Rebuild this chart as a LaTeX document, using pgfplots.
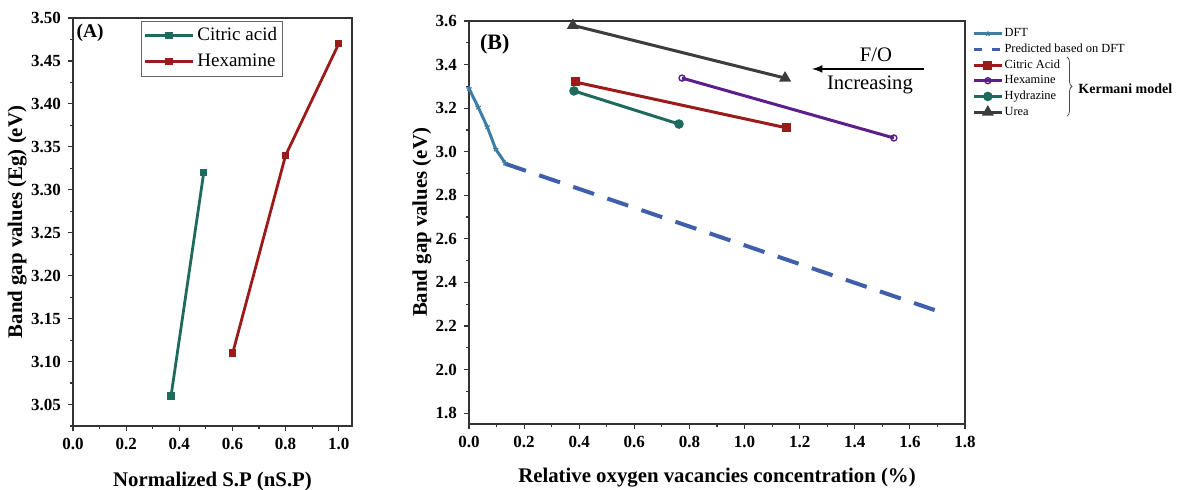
\documentclass[border=0pt]{standalone}
\usepackage{pgfplots}
\pgfplotsset{compat=1.18}
\usepackage{fontspec}
\setmainfont{Liberation Serif}
\usetikzlibrary{decorations.pathreplacing}
\definecolor{cteal}{HTML}{1E6B5E}
\definecolor{cred}{HTML}{9B1B1B}
\definecolor{cpurple}{HTML}{5B1F8B}
\definecolor{cgray}{HTML}{3C3C3C}
\definecolor{cdft}{HTML}{3D7EA6}
\definecolor{cpred}{HTML}{3F5FAA}
\begin{document}
\begin{tikzpicture}
\path[use as bounding box] (0,0) rectangle (589.5pt,244.5pt);
\pgfplotsset{
  common/.style={
    scale only axis,
    axis line style={line width=0.75pt, black!80},
    tick align=outside, tick pos=left,
    major tick length=2.5pt, minor tick length=1.5pt,
    every tick/.style={line width=0.6pt, black!80},
    /pgf/number format/assume math mode=true,
    /pgf/number format/fixed, /pgf/number format/fixed zerofill,
    ticklabel style={font=\bfseries\fontsize{8.5}{10}\selectfont},
    label style={font=\bfseries\fontsize{10.4}{12}\selectfont},
    clip=false,
  }
}
% ---------- Panel A ----------
\begin{axis}[common,
  at={(36.5pt,31.5pt)}, anchor=south west,
  width=139.5pt, height=204pt,
  xmin=0, xmax=1.05, ymin=3.025, ymax=3.50,
  xtick={0,0.2,...,1.0}, minor xtick={0.1,0.3,...,0.9},
  ytick={3.05,3.10,...,3.51}, minor ytick={3.025,3.075,...,3.49},
  xticklabel style={/pgf/number format/precision=1},
  yticklabel style={/pgf/number format/precision=2},
  xlabel={Normalized S.P (nS.P)},
  ylabel={Band gap values (Eg) (eV)},
  xlabel style={at={(axis description cs:0.5,-0.137)}, anchor=center},
  ylabel style={at={(axis description cs:-0.2,0.5)}, anchor=center},
  legend style={at={(0.244,0.993)}, anchor=north west, draw=black!60, line width=0.5pt,
    font=\fontsize{9.5}{11}\selectfont, inner sep=1pt,
    nodes={inner sep=1.5pt, text height=7pt, text depth=2.5pt}, row sep=0.5pt},
  legend cell align=left,
  legend image code/.code={\draw[mark repeat=2,mark phase=2] plot coordinates {(0pt,0pt) (12pt,0pt) (24pt,0pt)};},
]
\addplot[color=cteal, line width=1.4pt, mark=square*, mark size=1.1pt] coordinates {(0.369,3.06) (0.492,3.32)};
\addlegendentry{Citric acid}
\addplot[color=cred, line width=1.4pt, mark=square*, mark size=1.1pt] coordinates {(0.601,3.11) (0.80,3.34) (1.0,3.47)};
\addlegendentry{Hexamine}
\node[font=\bfseries\fontsize{9.7}{11}\selectfont] at (axis description cs:0.061,0.963) {(A)};
\end{axis}
% ---------- Panel B ----------
\begin{axis}[common,
  at={(234.5pt,32.5pt)}, anchor=south west,
  width=248pt, height=201.5pt,
  xmin=0, xmax=1.8, ymin=1.75, ymax=3.6,
  xtick={0,0.2,...,1.81}, minor xtick={0.1,0.3,...,1.75},
  ytick={1.8,2.0,...,3.61}, minor ytick={1.9,2.1,...,3.55},
  xticklabel style={/pgf/number format/precision=1},
  yticklabel style={/pgf/number format/precision=1},
  xlabel={Relative oxygen vacancies concentration (\%)},
  ylabel={Band gap values (eV)},
  xlabel style={at={(axis description cs:0.5,-0.134)}, anchor=center},
  ylabel style={at={(axis description cs:-0.095,0.5)}, anchor=center},
  legend style={at={(1.012,0.99)}, anchor=north west, draw=none, fill=none,
    font=\fontsize{6.2}{7}\selectfont, inner sep=0.5pt,
    nodes={inner sep=0.6pt, text height=4.6pt, text depth=1.4pt}, row sep=0.65pt},
  legend cell align=left,
  legend image code/.code={\draw[mark repeat=2,mark phase=2] plot coordinates {(0pt,0pt) (7pt,0pt) (14pt,0pt)};},
]
\addplot[color=cdft, line width=1.5pt, mark=star, mark size=1.4pt, mark options={line width=0.6pt}]
  coordinates {(0,3.29) (0.033,3.205) (0.066,3.115) (0.097,3.012) (0.131,2.948)};
\addlegendentry{DFT}
\addplot[color=cpred, line width=2pt, dash pattern=on 11pt off 7pt, forget plot]
  coordinates {(0.131,2.945) (1.69,2.273)};
\addlegendimage{color=cpred, line width=1.5pt, dash pattern=on 4pt off 5pt}
\addlegendentry{Predicted based on DFT}
\addplot[color=cred, line width=1.5pt, mark=square*, mark size=1.5pt]
  coordinates {(0.385,3.32) (1.154,3.109)};
\addlegendentry{Citric Acid}
\addplot[color=cpurple, line width=1.5pt, mark=o, mark size=1.5pt, mark options={fill=white, line width=0.7pt}]
  coordinates {(0.773,3.338) (1.542,3.063)};
\addlegendentry{Hexamine}
\addplot[color=cteal, line width=1.5pt, mark=*, mark size=1.6pt]
  coordinates {(0.381,3.279) (0.762,3.127)};
\addlegendentry{Hydrazine}
\addplot[color=cgray, line width=1.5pt, mark=triangle*, mark size=2pt]
  coordinates {(0.377,3.58) (1.147,3.338)};
\addlegendentry{Urea}
\node[font=\bfseries\fontsize{11}{12}\selectfont] at (axis description cs:0.052,0.943) {(B)};
\node[font=\fontsize{10.3}{12}\selectfont] at (axis cs:1.477,3.444) {F/O};
\node[font=\fontsize{10.3}{12}\selectfont] at (axis cs:1.455,3.306) {Increasing};
\draw[-latex, line width=0.8pt] (axis cs:1.651,3.38) -- (axis cs:1.245,3.38);
\draw[decorate, decoration={brace, amplitude=2.5pt}, line width=0.4pt, black!70]
  (rel axis cs:1.2056,0.9107) -- (rel axis cs:1.2056,0.764);
\node[font=\bfseries\fontsize{7}{8}\selectfont, anchor=west, inner sep=0pt] at (rel axis cs:1.228,0.831) {Kermani model};
\end{axis}
\end{tikzpicture}
\end{document}
